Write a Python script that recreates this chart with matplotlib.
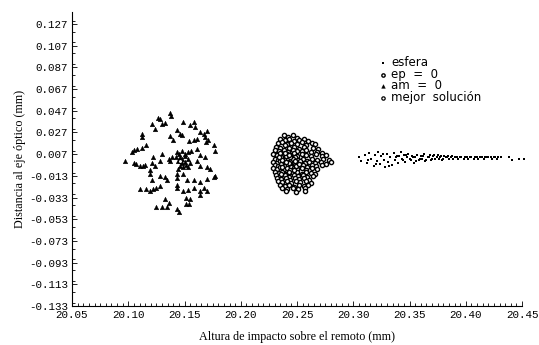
"""plot.py - impact height vs. distance to optical axis (scan recreation)."""
import numpy as np
import matplotlib.pyplot as plt
from matplotlib.ticker import MultipleLocator, FormatStrFormatter

# esfera: thin band of dots on the right
esfera_x = [20.305, 20.307, 20.310, 20.312, 20.314, 20.316, 20.318, 20.319, 20.321, 20.322,
            20.324, 20.325, 20.327, 20.328, 20.330, 20.331, 20.333, 20.334, 20.336, 20.337,
            20.339, 20.340, 20.342, 20.343, 20.345, 20.346, 20.348, 20.349, 20.351, 20.352,
            20.354, 20.355, 20.357, 20.358, 20.360, 20.361, 20.363, 20.364, 20.366, 20.368,
            20.369, 20.371, 20.373, 20.375, 20.377, 20.379, 20.381, 20.383, 20.385, 20.388,
            20.390, 20.393, 20.396, 20.399, 20.402, 20.405, 20.408, 20.411, 20.414, 20.417,
            20.420, 20.423, 20.426, 20.429, 20.438, 20.441, 20.447, 20.452,
            20.341, 20.344, 20.347, 20.350, 20.353, 20.356, 20.359, 20.362, 20.365, 20.367,
            20.370, 20.372, 20.374, 20.376, 20.378, 20.380, 20.382, 20.384, 20.387, 20.389,
            20.392, 20.395, 20.398, 20.401, 20.404, 20.407, 20.410, 20.413, 20.416, 20.419,
            20.422, 20.425, 20.428, 20.431, 20.313, 20.320, 20.326, 20.332, 20.338]
esfera_y = [0.004, 0.001, 0.006, -0.001, 0.008, 0.003, -0.004, 0.006, 0.001, 0.009,
            -0.002, 0.005, 0.002, -0.005, 0.007, 0.000, 0.004, -0.003, 0.008, 0.002,
            0.005, -0.001, 0.009, 0.003, 0.006, 0.000, 0.004, 0.007, 0.002, 0.005,
            -0.001, 0.004, 0.006, 0.002, 0.005, 0.003, 0.007, 0.001, 0.004, 0.006,
            0.002, 0.005, 0.003, 0.006, 0.004, 0.002, 0.005, 0.004, 0.003, 0.005,
            0.004, 0.003, 0.004, 0.004, 0.003, 0.004, 0.004, 0.003, 0.004, 0.004,
            0.004, 0.003, 0.004, 0.004, 0.004, 0.002, 0.003, 0.003,
            0.005, 0.002, 0.006, 0.003, 0.004, 0.001, 0.003, 0.005, 0.002, 0.004,
            0.003, 0.006, 0.004, 0.003, 0.005, 0.003, 0.004, 0.005, 0.004, 0.003,
            0.004, 0.004, 0.003, 0.004, 0.004, 0.003, 0.004, 0.004, 0.003, 0.004,
            0.004, 0.004, 0.003, 0.004, 0.002, -0.002, 0.007, -0.004, 0.004]

# ep = 0: dense blob of open circles around 20.25
ep_pts = [
    (20.238, 0.025), (20.242, 0.023), (20.246, 0.025), (20.250, 0.022),
    (20.235, 0.021), (20.239, 0.020), (20.243, 0.021), (20.247, 0.019), (20.252, 0.020),
    (20.256, 0.021), (20.260, 0.019), (20.263, 0.017),
    (20.233, 0.017), (20.237, 0.018), (20.241, 0.016), (20.245, 0.017), (20.250, 0.016),
    (20.254, 0.018), (20.258, 0.015), (20.266, 0.016),
    (20.231, 0.014), (20.235, 0.013), (20.239, 0.015), (20.243, 0.013), (20.247, 0.014),
    (20.252, 0.012), (20.256, 0.014), (20.264, 0.013), (20.269, 0.012),
    (20.230, 0.011), (20.234, 0.010), (20.238, 0.011), (20.242, 0.009), (20.246, 0.011),
    (20.250, 0.010), (20.254, 0.010), (20.258, 0.011), (20.262, 0.009), (20.268, 0.009),
    (20.272, 0.008),
    (20.229, 0.007), (20.232, 0.006), (20.235, 0.008), (20.238, 0.005), (20.241, 0.007),
    (20.244, 0.006), (20.247, 0.008), (20.250, 0.005), (20.254, 0.007), (20.258, 0.006),
    (20.262, 0.005), (20.267, 0.007), (20.272, 0.005), (20.276, 0.006),
    (20.230, 0.003), (20.233, 0.002), (20.236, 0.004), (20.239, 0.002), (20.242, 0.003),
    (20.245, 0.001), (20.248, 0.004), (20.251, 0.002), (20.255, 0.003), (20.259, 0.001),
    (20.263, 0.003), (20.268, 0.002), (20.273, 0.003), (20.278, 0.002),
    (20.229, 0.000), (20.232, -0.001), (20.235, 0.001), (20.238, -0.001), (20.241, 0.000),
    (20.244, -0.002), (20.247, 0.000), (20.250, -0.001), (20.253, 0.001), (20.257, -0.001),
    (20.261, 0.000), (20.266, -0.001), (20.271, 0.000), (20.276, -0.002), (20.280, 0.000),
    (20.230, -0.003), (20.233, -0.004), (20.236, -0.002), (20.239, -0.004), (20.242, -0.003),
    (20.245, -0.005), (20.248, -0.003), (20.251, -0.004), (20.255, -0.003), (20.259, -0.005),
    (20.263, -0.003), (20.267, -0.004), (20.272, -0.003),
    (20.229, -0.006), (20.232, -0.007), (20.235, -0.005), (20.238, -0.007), (20.241, -0.006),
    (20.244, -0.008), (20.247, -0.006), (20.250, -0.007), (20.254, -0.006), (20.258, -0.008),
    (20.263, -0.006), (20.268, -0.007),
    (20.230, -0.009), (20.234, -0.010), (20.237, -0.009), (20.240, -0.011), (20.243, -0.009),
    (20.246, -0.010), (20.250, -0.009), (20.254, -0.011), (20.258, -0.009), (20.262, -0.010),
    (20.266, -0.011),
    (20.231, -0.012), (20.235, -0.013), (20.239, -0.012), (20.243, -0.014), (20.247, -0.012),
    (20.251, -0.013), (20.255, -0.012), (20.259, -0.014), (20.264, -0.013),
    (20.232, -0.015), (20.236, -0.016), (20.240, -0.015), (20.244, -0.017), (20.248, -0.015),
    (20.252, -0.016), (20.256, -0.015), (20.261, -0.017),
    (20.233, -0.018), (20.237, -0.019), (20.241, -0.018), (20.245, -0.020), (20.249, -0.018),
    (20.253, -0.019), (20.258, -0.018), (20.262, -0.020),
    (20.235, -0.021), (20.239, -0.022), (20.243, -0.021), (20.247, -0.023), (20.252, -0.021),
    (20.256, -0.022), (20.260, -0.021),
    (20.237, -0.024), (20.241, -0.025), (20.246, -0.024), (20.251, -0.025), (20.257, -0.024),
    (20.240, -0.027), (20.249, -0.028), (20.257, -0.027),
    # extra points in the dark core
    (20.237, 0.002), (20.240, 0.005), (20.243, -0.001), (20.246, 0.003), (20.249, -0.004),
    (20.237, -0.005), (20.240, 0.000), (20.244, 0.004), (20.248, 0.001), (20.252, -0.002),
    (20.234, 0.004), (20.239, 0.008), (20.243, 0.006), (20.247, -0.008), (20.236, -0.011),
]
ep_x = [p[0] for p in ep_pts]
ep_y = [p[1] for p in ep_pts]

# am = 0: scattered triangles around 20.15
am_pts = [
    (20.137, 0.045), (20.138, 0.042), (20.126, 0.040), (20.128, 0.039), (20.133, 0.036),
    (20.130, 0.035), (20.121, 0.035), (20.149, 0.037), (20.158, 0.037), (20.155, 0.034),
    (20.159, 0.032), (20.112, 0.026), (20.112, 0.023), (20.124, 0.030), (20.143, 0.029),
    (20.146, 0.026), (20.148, 0.025), (20.137, 0.024), (20.140, 0.020), (20.164, 0.027),
    (20.167, 0.026), (20.170, 0.028), (20.168, 0.023), (20.171, 0.020), (20.169, 0.018),
    (20.158, 0.020), (20.154, 0.019), (20.161, 0.021), (20.176, 0.015), (20.177, 0.010),
    (20.116, 0.015), (20.112, 0.013), (20.108, 0.012), (20.103, 0.009), (20.105, 0.011),
    (20.097, 0.001), (20.105, -0.001), (20.107, -0.002), (20.110, -0.004), (20.113, -0.004),
    (20.115, -0.003), (20.122, 0.004), (20.121, -0.001), (20.124, -0.004), (20.128, 0.001),
    (20.130, 0.007), (20.139, 0.004), (20.136, 0.003), (20.137, 0.001),
    (20.143, 0.009), (20.145, 0.007), (20.148, 0.010), (20.150, 0.007), (20.146, 0.004),
    (20.148, 0.003), (20.150, 0.005), (20.144, 0.001), (20.148, -0.001), (20.150, 0.000),
    (20.153, 0.003), (20.146, -0.004), (20.149, -0.005), (20.151, -0.003), (20.144, -0.007),
    (20.153, -0.005), (20.155, -0.001), (20.142, 0.004),
    (20.153, 0.009), (20.156, 0.010), (20.161, 0.012), (20.164, 0.006), (20.168, 0.004),
    (20.161, 0.001), (20.164, -0.004), (20.170, -0.005), (20.173, -0.007), (20.177, -0.013),
    (20.119, -0.008), (20.119, -0.011), (20.121, -0.017), (20.128, -0.013), (20.133, -0.014),
    (20.134, -0.017), (20.143, -0.011), (20.143, -0.015), (20.143, -0.021), (20.149, -0.011),
    (20.152, -0.017), (20.158, -0.017), (20.164, -0.019), (20.170, -0.016), (20.176, -0.014),
    (20.110, -0.025), (20.116, -0.025), (20.119, -0.027), (20.122, -0.025), (20.125, -0.024),
    (20.128, -0.022), (20.143, -0.024), (20.149, -0.027), (20.153, -0.026), (20.158, -0.024),
    (20.164, -0.027), (20.167, -0.024), (20.170, -0.027), (20.151, -0.033), (20.155, -0.034),
    (20.164, -0.031), (20.133, -0.034), (20.136, -0.038), (20.151, -0.039), (20.154, -0.039),
    (20.125, -0.042), (20.130, -0.042), (20.134, -0.042), (20.143, -0.044), (20.145, -0.046),
]
am_x = [p[0] for p in am_pts]
am_y = [p[1] for p in am_pts]

# mejor solucion: single point hidden in the triangle core
best_x = [20.146]
best_y = [0.001]

x_major = 0.05
y_ticks = np.arange(-0.133, 0.1371, 0.02)

fig = plt.figure(figsize=(5.39, 3.45), dpi=100)
ax = fig.add_axes([0.1336, 0.113, 0.835, 0.852])

ax.scatter(esfera_x, esfera_y, marker="s", s=3.5, color="black", linewidths=0,
           label="esfera", clip_on=False)
ax.scatter(ep_x, ep_y, marker="o", s=9, facecolors="white", edgecolors="black",
           linewidths=1.0, label="ep  =  0")
ax.scatter(am_x, am_y, marker="^", s=11, color="black", linewidths=0.3, label="am  =  0")
ax.scatter(best_x, best_y, marker="o", s=9, facecolors="white", edgecolors="black",
           linewidths=0.9, label="mejor  solución")

ax.set_xlim(20.05, 20.45)
ax.set_ylim(-0.133, 0.138)
ax.xaxis.set_major_locator(MultipleLocator(x_major))
ax.xaxis.set_minor_locator(MultipleLocator(0.005))
ax.set_yticks(y_ticks)
ax.yaxis.set_minor_locator(MultipleLocator(0.01))
ax.xaxis.set_major_formatter(FormatStrFormatter("%.2f"))
ax.yaxis.set_major_formatter(FormatStrFormatter("%.3f"))

for s in ["top", "right"]:
    ax.spines[s].set_visible(False)
for s in ["left", "bottom"]:
    ax.spines[s].set_linewidth(0.8)
ax.tick_params(which="both", direction="in", top=False, right=False, width=0.6)
ax.tick_params(which="major", length=3.5, pad=3)
ax.tick_params(which="minor", length=2)
for lab in ax.get_xticklabels() + ax.get_yticklabels():
    lab.set_family("Liberation Mono")
    lab.set_fontsize(7.8)

ax.set_xlabel("Altura de impacto sobre el remoto (mm)", family="Liberation Serif",
              fontsize=8.7, labelpad=8)
ax.set_ylabel("Distancia al eje óptico (mm)", family="Liberation Serif",
              fontsize=8.7, labelpad=2)

ax.legend(loc="upper left", bbox_to_anchor=(0.67, 0.87), frameon=False,
          handlelength=0.6, handletextpad=0.4, labelspacing=-0.12, borderpad=0,
          prop={"family": "DejaVu Sans", "size": 8.5}, markerscale=0.8)

plt.savefig("out.png", dpi=100)
plt.close()
